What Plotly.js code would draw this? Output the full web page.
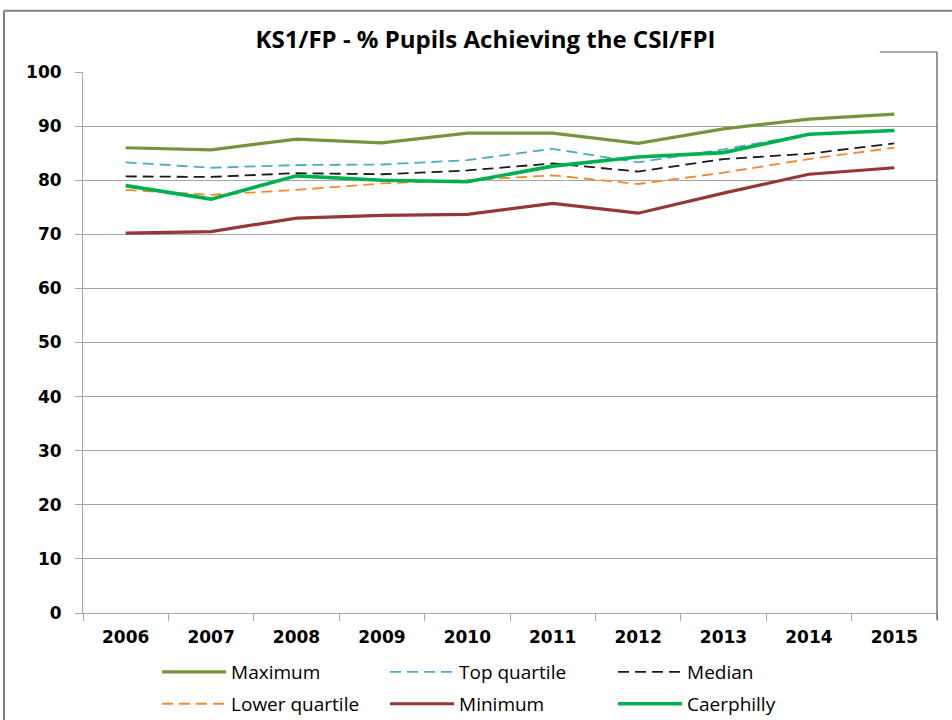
<!DOCTYPE html>
<html>
<head>
<meta charset="utf-8">
<script src="https://cdn.plot.ly/plotly-3.0.1.min.js"></script>
<style>html,body{margin:0;padding:0;background:#fff;}#chart{width:952px;height:720px;}</style>
</head>
<body>
<div id="chart"></div>
<script>
const years = ["2006","2007","2008","2009","2010","2011","2012","2013","2014","2015"];
const maximum     = [86.0, 85.6, 87.6, 86.9, 88.7, 88.7, 86.8, 89.5, 91.3, 92.2];
const topQuartile = [83.3, 82.3, 82.8, 82.9, 83.7, 85.8, 83.3, 85.7, 88.5, 89.2];
const median      = [80.7, 80.6, 81.3, 81.1, 81.8, 83.1, 81.6, 83.9, 84.9, 86.8];
const lowerQuartile = [78.2, 77.3, 78.2, 79.4, 80.0, 80.9, 79.3, 81.4, 83.9, 86.0];
const minimum     = [70.2, 70.5, 73.0, 73.5, 73.7, 75.7, 73.9, 77.6, 81.1, 82.3];
const caerphilly  = [79.0, 76.5, 80.8, 80.0, 79.7, 82.6, 84.3, 85.1, 88.5, 89.2];
const yTicks = [0,10,20,30,40,50,60,70,80,90,100];

const dash = "11px,6px";
const traces = [
  {name:"Maximum", y:maximum, line:{color:"#77933C", width:3.2}, legend:"legend"},
  {name:"Top quartile", y:topQuartile, line:{color:"#4BACC6", width:1.8, dash:dash}, legend:"legend"},
  {name:"Median", y:median, line:{color:"#1a1a1a", width:1.8, dash:dash}, legend:"legend"},
  {name:"Lower quartile", y:lowerQuartile, line:{color:"#F38A2E", width:1.8, dash:dash}, legend:"legend2"},
  {name:"Minimum", y:minimum, line:{color:"#953735", width:3.2}, legend:"legend2"},
  {name:"Caerphilly", y:caerphilly, line:{color:"#00B050", width:3.6}, legend:"legend2"}
].map(t => Object.assign({x:years, type:"scatter", mode:"lines", hoverinfo:"skip"}, t));

const legendBase = {orientation:"h", x:0.0867, xanchor:"left", yanchor:"middle",
  entrywidth:149, entrywidthmode:"pixels", itemwidth:64, traceorder:"normal",
  font:{family:"Open Sans, Noto Sans, sans-serif", size:19, color:"#000"}, bgcolor:"rgba(0,0,0,0)"};

const layout = {
  width:952, height:720,
  margin:{l:83, r:15, t:72, b:107, autoexpand:false},
  paper_bgcolor:"#fff", plot_bgcolor:"#fff",
  title:{text:"<b>KS1/FP - % Pupils Achieving the CSI/FPI</b>", x:0.51, xanchor:"center", y:0.945, yanchor:"middle",
         font:{family:"Open Sans, Noto Sans, sans-serif", size:24, color:"#000"}},
  xaxis:{type:"category", tickson:"boundaries", ticks:"outside", ticklen:7, tickcolor:"#A6A6A6",
         showgrid:false, showline:true, linecolor:"#A6A6A6", linewidth:1, zeroline:false,
         tickfont:{family:"DejaVu Sans, Verdana, sans-serif", size:17, color:"#000", weight:"bold"},
         ticklabelstandoff:9, range:[-0.5,9.5], fixedrange:true},
  yaxis:{range:[0,100], tickvals:yTicks, ticktext:yTicks.map(String), ticks:"outside", ticklen:7, tickcolor:"#A6A6A6",
         showgrid:true, gridcolor:"#A6A6A6", gridwidth:1, showline:true, linecolor:"#A6A6A6", zeroline:false,
         tickfont:{family:"DejaVu Sans, Verdana, sans-serif", size:17, color:"#000", weight:"bold"},
         ticklabelstandoff:10, fixedrange:true},
  showlegend:true,
  legend:Object.assign({}, legendBase, {y:-0.109}),
  legend2:Object.assign({}, legendBase, {y:-0.168}),
  shapes:[
    {type:"line", xref:"paper", yref:"paper", x0:-0.0925, x1:1.1, y0:1.113, y1:1.113, line:{color:"#808080", width:2}},
    {type:"line", xref:"paper", yref:"paper", x0:-0.0925, x1:-0.0925, y0:1.113, y1:-0.25, line:{color:"#808080", width:2}},
    {type:"line", xref:"paper", yref:"paper", x0:1, x1:1, y0:1.037, y1:-0.013, line:{color:"#333", width:1}},
    {type:"line", xref:"paper", yref:"paper", x0:0.933, x1:1, y0:1.037, y1:1.037, line:{color:"#555", width:1}}
  ]
};
Plotly.newPlot("chart", traces, layout, {displayModeBar:false, staticPlot:true});
</script>
</body>
</html>
